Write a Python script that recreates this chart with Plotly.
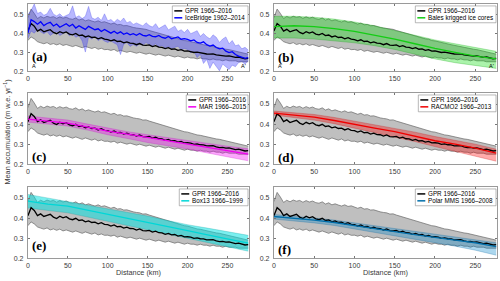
import plotly.graph_objects as go

W, H = 500, 281

# ---------------- data ----------------
distance_km = list(range(0, 280, 4))  # 0..276 km, 70 samples

gpr_mean = [0.412, 0.452, 0.438, 0.412, 0.421, 0.408, 0.414, 0.419, 0.405, 0.398,
            0.409, 0.401, 0.407, 0.396, 0.392, 0.399, 0.388, 0.391, 0.381, 0.386,
            0.378, 0.380, 0.371, 0.377, 0.369, 0.367, 0.360, 0.366, 0.357, 0.359,
            0.350, 0.355, 0.348, 0.347, 0.340, 0.346, 0.338, 0.336, 0.339, 0.330,
            0.335, 0.327, 0.326, 0.319, 0.324, 0.316, 0.318, 0.310, 0.314, 0.306,
            0.307, 0.305, 0.299, 0.301, 0.297, 0.296, 0.291, 0.290, 0.292, 0.286,
            0.283, 0.284, 0.280, 0.281, 0.277, 0.273, 0.275, 0.270, 0.266, 0.268]
gpr_upper = [0.482, 0.528, 0.505, 0.478, 0.489, 0.481, 0.490, 0.484, 0.488, 0.479,
             0.487, 0.480, 0.485, 0.477, 0.474, 0.481, 0.470, 0.476, 0.466, 0.471,
             0.465, 0.460, 0.466, 0.458, 0.461, 0.455, 0.449, 0.454, 0.445, 0.447,
             0.440, 0.441, 0.434, 0.431, 0.428, 0.426, 0.420, 0.421, 0.415, 0.410,
             0.406, 0.401, 0.396, 0.391, 0.387, 0.381, 0.376, 0.371, 0.369, 0.362,
             0.360, 0.355, 0.351, 0.346, 0.344, 0.340, 0.336, 0.334, 0.330, 0.326,
             0.324, 0.320, 0.316, 0.314, 0.310, 0.306, 0.301, 0.299, 0.295, 0.290]
gpr_lower = [0.362, 0.381, 0.371, 0.356, 0.350, 0.345, 0.351, 0.341, 0.346, 0.339,
             0.345, 0.336, 0.341, 0.334, 0.330, 0.336, 0.329, 0.324, 0.331, 0.325,
             0.320, 0.326, 0.316, 0.321, 0.314, 0.315, 0.310, 0.315, 0.305, 0.310,
             0.305, 0.300, 0.305, 0.300, 0.295, 0.300, 0.295, 0.290, 0.295, 0.290,
             0.285, 0.290, 0.285, 0.280, 0.285, 0.280, 0.275, 0.280, 0.275, 0.270,
             0.275, 0.270, 0.270, 0.265, 0.270, 0.265, 0.265, 0.260, 0.265, 0.260,
             0.260, 0.255, 0.260, 0.255, 0.255, 0.255, 0.250, 0.250, 0.250, 0.250]

icebridge_mean = [0.400, 0.472, 0.462, 0.448, 0.461, 0.441, 0.452, 0.458, 0.439, 0.449,
                  0.432, 0.441, 0.451, 0.437, 0.448, 0.428, 0.440, 0.430, 0.421, 0.437,
                  0.428, 0.419, 0.424, 0.410, 0.420, 0.409, 0.401, 0.411, 0.399, 0.408,
                  0.395, 0.402, 0.392, 0.398, 0.390, 0.399, 0.389, 0.386, 0.393, 0.384,
                  0.382, 0.389, 0.378, 0.374, 0.383, 0.371, 0.376, 0.381, 0.369, 0.372,
                  0.368, 0.360, 0.365, 0.352, 0.348, 0.355, 0.340, 0.333, 0.338, 0.325,
                  0.318, 0.322, 0.306, 0.298, 0.303, 0.288, 0.280, 0.276, 0.268, 0.272]
icebridge_upper = [0.500, 0.520, 0.555, 0.505, 0.512, 0.495, 0.503, 0.532, 0.501, 0.492,
                   0.503, 0.486, 0.494, 0.502, 0.545, 0.484, 0.493, 0.478, 0.490, 0.542,
                   0.482, 0.474, 0.485, 0.468, 0.503, 0.466, 0.473, 0.458, 0.474, 0.463,
                   0.481, 0.455, 0.463, 0.447, 0.455, 0.448, 0.439, 0.456, 0.441, 0.433,
                   0.451, 0.425, 0.434, 0.445, 0.418, 0.427, 0.438, 0.410, 0.419, 0.404,
                   0.421, 0.398, 0.405, 0.414, 0.384, 0.399, 0.382, 0.371, 0.392, 0.379,
                   0.352, 0.370, 0.381, 0.345, 0.362, 0.334, 0.340, 0.318, 0.326, 0.312]
icebridge_lower = [0.372, 0.412, 0.401, 0.421, 0.408, 0.398, 0.410, 0.389, 0.401, 0.409,
                   0.388, 0.399, 0.408, 0.387, 0.396, 0.379, 0.388, 0.360, 0.301, 0.381,
                   0.370, 0.382, 0.362, 0.371, 0.359, 0.352, 0.361, 0.349, 0.340, 0.288,
                   0.343, 0.352, 0.331, 0.341, 0.332, 0.345, 0.338, 0.351, 0.342, 0.333,
                   0.345, 0.328, 0.336, 0.322, 0.331, 0.318, 0.326, 0.332, 0.312, 0.320,
                   0.315, 0.298, 0.306, 0.272, 0.289, 0.241, 0.262, 0.215, 0.248, 0.226,
                   0.202, 0.238, 0.221, 0.209, 0.232, 0.224, 0.246, 0.251, 0.238, 0.255]

model_distance_km = [0, 25, 50, 75, 100, 125, 150, 175, 200, 225, 250, 276]

bales_mean = [0.435, 0.440, 0.435, 0.425, 0.410, 0.390, 0.370, 0.345, 0.320, 0.300, 0.280, 0.265]
bales_upper = [0.490, 0.490, 0.485, 0.475, 0.460, 0.440, 0.415, 0.390, 0.365, 0.345, 0.325, 0.305]
bales_lower = [0.375, 0.375, 0.370, 0.360, 0.350, 0.335, 0.315, 0.290, 0.265, 0.245, 0.230, 0.215]

mar_mean = [0.425, 0.415, 0.405, 0.385, 0.365, 0.350, 0.333, 0.317, 0.302, 0.285, 0.268, 0.250]
mar_upper = [0.440, 0.430, 0.420, 0.400, 0.380, 0.362, 0.347, 0.332, 0.317, 0.302, 0.290, 0.277]
mar_lower = [0.410, 0.400, 0.390, 0.370, 0.347, 0.328, 0.308, 0.292, 0.276, 0.256, 0.236, 0.217]

racmo_mean = [0.455, 0.445, 0.435, 0.418, 0.398, 0.380, 0.362, 0.340, 0.317, 0.300, 0.280, 0.255]
racmo_upper = [0.465, 0.457, 0.448, 0.433, 0.415, 0.398, 0.380, 0.360, 0.338, 0.320, 0.300, 0.275]
racmo_lower = [0.445, 0.433, 0.420, 0.402, 0.380, 0.360, 0.338, 0.313, 0.288, 0.265, 0.240, 0.215]

box13_mean = [0.485, 0.470, 0.460, 0.440, 0.418, 0.400, 0.380, 0.358, 0.337, 0.316, 0.295, 0.275]
box13_upper = [0.518, 0.500, 0.485, 0.466, 0.446, 0.428, 0.410, 0.388, 0.367, 0.350, 0.334, 0.314]
box13_lower = [0.450, 0.438, 0.426, 0.405, 0.384, 0.364, 0.343, 0.322, 0.300, 0.280, 0.260, 0.235]

polar_mean = [0.408, 0.400, 0.390, 0.378, 0.362, 0.348, 0.333, 0.318, 0.303, 0.290, 0.277, 0.258]
polar_upper = [0.418, 0.410, 0.400, 0.390, 0.376, 0.362, 0.348, 0.333, 0.318, 0.305, 0.292, 0.277]
polar_lower = [0.395, 0.386, 0.376, 0.363, 0.346, 0.330, 0.313, 0.295, 0.278, 0.260, 0.240, 0.215]

gpr_name = "GPR 1966–2016"
x_ticks = [0, 50, 100, 150, 200, 250]
y_ticks = [0.2, 0.3, 0.4, 0.5]
y_tick_text = ["0.2", "0.3", "0.4", "0.5"]

# ---------------- layout constants (pixels) ----------------
col_px = [(26, 248), (273, 497)]
row_px = [(4, 72), (94, 166), (189, 261)]

panels = [
    dict(label="(a)", name="IceBridge 1962–2014", x=distance_km, mean=icebridge_mean,
         up=icebridge_upper, lo=icebridge_lower, line="rgb(0,0,255)",
         fill="rgba(50,50,255,0.35)", edge="rgba(60,60,230,0.6)", leg_left=171, lab_off=14.5),
    dict(label="(b)", name="Bales krigged ice cores", x=model_distance_km, mean=bales_mean,
         up=bales_upper, lo=bales_lower, line="rgb(20,205,20)",
         fill="rgba(0,220,0,0.33)", edge="rgba(0,160,0,0.5)", leg_left=415, lab_off=14),
    dict(label="(c)", name="MAR 1966–2015", x=model_distance_km, mean=mar_mean,
         up=mar_upper, lo=mar_lower, line="rgb(240,0,240)",
         fill="rgba(245,0,245,0.35)", edge="rgba(200,0,200,0.5)", leg_left=185, lab_off=8),
    dict(label="(d)", name="RACMO2 1966–2013", x=model_distance_km, mean=racmo_mean,
         up=racmo_upper, lo=racmo_lower, line="rgb(240,0,0)",
         fill="rgba(255,0,0,0.33)", edge="rgba(200,0,0,0.5)", leg_left=418, lab_off=6.5),
    dict(label="(e)", name="Box13 1966–1999", x=model_distance_km, mean=box13_mean,
         up=box13_upper, lo=box13_lower, line="rgb(0,215,215)",
         fill="rgba(0,225,225,0.52)", edge="rgba(0,150,150,0.5)", leg_left=178, lab_off=13),
    dict(label="(f)", name="Polar MMS 1966–2008", x=model_distance_km, mean=polar_mean,
         up=polar_upper, lo=polar_lower, line="rgb(0,110,170)",
         fill="rgba(0,130,200,0.33)", edge="rgba(0,100,160,0.5)", leg_left=415, lab_off=9),
]

FONT = "Liberation Sans, Arial, sans-serif"


def px_x(p):
    return p / W


def px_y(p):
    return 1 - p / H


fig = go.Figure()
shapes, annotations = [], []
layout_axes = {}

for i, p in enumerate(panels):
    r, c = divmod(i, 2)
    k = i + 1
    xs = "x" if k == 1 else f"x{k}"
    ys = "y" if k == 1 else f"y{k}"
    x0, x1 = col_px[c]
    y0, y1 = row_px[r]
    common = dict(xaxis=xs, yaxis=ys, showlegend=False, hoverinfo="skip", mode="lines")

    # GPR envelope
    fig.add_trace(go.Scatter(x=distance_km, y=gpr_upper, line=dict(color="rgb(105,105,105)", width=0.7), **common))
    fig.add_trace(go.Scatter(x=distance_km, y=gpr_lower, line=dict(color="rgb(105,105,105)", width=0.7),
                             fill="tonexty", fillcolor="rgba(128,128,128,0.5)", **common))
    # comparison envelope
    fig.add_trace(go.Scatter(x=p["x"], y=p["up"], line=dict(color=p["edge"], width=0.5), **common))
    fig.add_trace(go.Scatter(x=p["x"], y=p["lo"], line=dict(color=p["edge"], width=0.5),
                             fill="tonexty", fillcolor=p["fill"], **common))
    # mean lines
    fig.add_trace(go.Scatter(x=distance_km, y=gpr_mean, line=dict(color="black", width=1.3), **common))
    fig.add_trace(go.Scatter(x=p["x"], y=p["mean"], line=dict(color=p["line"], width=1.3), **common))

    axis_style = dict(showline=True, linecolor="#9a9a9a", linewidth=1, mirror="ticks",
                      ticks="inside", ticklen=2.5, tickcolor="#777", tickwidth=0.8,
                      showgrid=False, zeroline=False,
                      tickfont=dict(family=FONT, size=7, color="#3a3a3a"))
    layout_axes["xaxis" if k == 1 else f"xaxis{k}"] = dict(
        domain=[px_x(x0), px_x(x1)], anchor=ys, range=[0, 277],
        tickvals=x_ticks, ticklabelstandoff=0, **axis_style)
    layout_axes["yaxis" if k == 1 else f"yaxis{k}"] = dict(
        domain=[px_y(y1), px_y(y0)], anchor=xs, range=[0.2, 0.555],
        tickvals=y_ticks, ticktext=y_tick_text, ticklabelstandoff=2, **axis_style)

    # panel label
    annotations.append(dict(x=px_x(x0 + 2), y=px_y(y1 - p["lab_off"]), xref="paper", yref="paper",
                            text=f"<b>{p['label']}</b>", showarrow=False, xanchor="left", yanchor="middle",
                            font=dict(family="Liberation Serif, Times New Roman, serif", size=13, color="black")))

    # legend box
    lt = y0 + 2
    lx = p["leg_left"]
    shapes.append(dict(type="rect", xref="paper", yref="paper", x0=px_x(lx), x1=px_x(x1 - 1),
                       y0=px_y(lt + 17), y1=px_y(lt), line=dict(color="#8a8a8a", width=0.6),
                       fillcolor="white", layer="above"))
    for j, (nm, col) in enumerate([(gpr_name, "black"), (p["name"], p["line"])]):
        yy = lt + 5 + j * 7
        shapes.append(dict(type="line", xref="paper", yref="paper", x0=px_x(lx + 2), x1=px_x(lx + 10),
                           y0=px_y(yy), y1=px_y(yy), line=dict(color=col, width=1.5), layer="above"))
        annotations.append(dict(x=px_x(lx + 10.5), y=px_y(yy), xref="paper", yref="paper", text=nm,
                                showarrow=False, xanchor="left", yanchor="middle",
                                font=dict(family=FONT, size=6.3, color="black")))

    # A / A' markers on top row
    if r == 0:
        annotations.append(dict(x=px_x(x0 + 2), y=px_y(y1 - 0.5), xref="paper", yref="paper", text="A",
                                showarrow=False, xanchor="left", yanchor="bottom",
                                font=dict(family=FONT, size=5.5, color="black")))
        annotations.append(dict(x=px_x(x1 - 1), y=px_y(y1 - 0.5), xref="paper", yref="paper", text="A'",
                                showarrow=False, xanchor="right", yanchor="bottom",
                                font=dict(family=FONT, size=5.5, color="black")))

# x-axis titles (bottom row)
for c in range(2):
    x0, x1 = col_px[c]
    annotations.append(dict(x=px_x((x0 + x1) / 2), y=px_y(275.5), xref="paper", yref="paper",
                            text="Distance (km)", showarrow=False, xanchor="center", yanchor="middle",
                            font=dict(family=FONT, size=7.3, color="#3a3a3a")))

# shared y-axis title
annotations.append(dict(x=px_x(5), y=px_y(133), xref="paper", yref="paper",
                        text="Mean accumulation (m w.e. yr<sup>−1</sup>)", showarrow=False, textangle=-90,
                        xanchor="center", yanchor="middle",
                        font=dict(family=FONT, size=7.3, color="#3a3a3a")))

fig.update_layout(width=W, height=H, margin=dict(l=0, r=0, t=0, b=0),
                  paper_bgcolor="white", plot_bgcolor="white",
                  shapes=shapes, annotations=annotations, showlegend=False, **layout_axes)

fig.write_html("out.html", config={"displayModeBar": False},
               post_script="document.body.style.margin='0';document.body.style.overflow='hidden';")
